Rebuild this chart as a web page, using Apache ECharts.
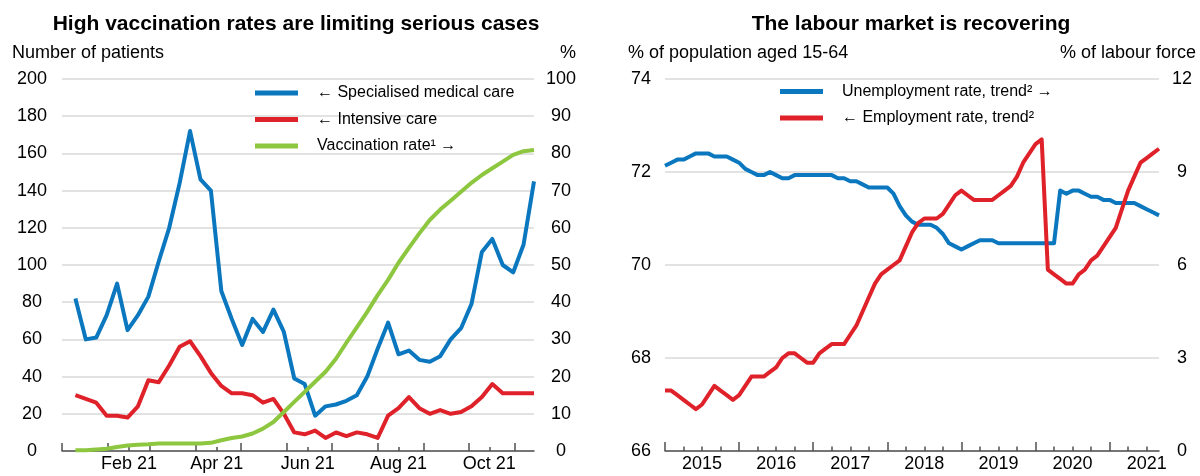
<!DOCTYPE html>
<html>
<head>
<meta charset="utf-8">
<title>Hospital cases and labour market</title>
<script src="https://cdn.jsdelivr.net/npm/echarts@6/dist/echarts.min.js"></script>
<style>
  html, body { margin: 0; padding: 0; background: #ffffff; }
  #chart { width: 1200px; height: 476px; }
</style>
</head>
<body>
<div id="chart"></div>
<script>
// ---- Left panel: weekly patient numbers and vaccination rate, 2021 ----
const dayAxisStart = '2021-01-01';
const dayAxisEnd = '2021-11-14';
const firstWeek = '2021-01-10';
const monthLabels = ['Feb 21', 'Apr 21', 'Jun 21', 'Aug 21', 'Oct 21'];

// Number of patients in specialised medical care (left axis)
const specialisedCare = [82, 60, 61, 73, 90, 65, 73, 83, 102, 120, 144, 172, 146, 140, 86,
  71, 57, 71, 64, 76, 64, 39, 36, 19, 24, 25, 27, 30, 40, 55, 69, 52, 54, 49, 48, 51, 60, 66,
  79, 107, 114, 100, 96, 111, 145];
// Number of patients in intensive care (left axis)
const intensiveCare = [30, 28, 26, 19, 19, 18, 24, 38, 37, 46, 56, 59, 51, 42, 35, 31, 31, 30,
  26, 28, 20, 10, 9, 11, 7, 10, 8, 10, 9, 7, 19, 23, 29, 23, 20, 22, 20, 21, 24, 29, 36, 31, 31,
  31, 31];
// Share vaccinated, per cent (right axis)
const vaccinationRate = [0.2, 0.2, 0.4, 0.6, 1.1, 1.5, 1.7, 1.8, 2.0, 2.0, 2.0, 2.0, 2.0, 2.2,
  2.9, 3.5, 3.9, 4.7, 6.0, 7.8, 10.5, 13.2, 15.9, 18.6, 21.3, 24.8, 29.1, 33.2, 37.4, 41.9, 46.0,
  50.6, 54.6, 58.5, 62.1, 64.9, 67.3, 69.7, 72.1, 74.2, 76.0, 77.8, 79.6, 80.6, 80.9];

// ---- Right panel: monthly labour market trends, Jan 2015 - Sep 2021 ----
const firstMonth = [2015, 1];
const lastMonth = [2021, 9];
// Unemployment rate, trend, % of labour force (right axis)
const unemploymentRate = [9.2, 9.3, 9.4, 9.4, 9.5, 9.6, 9.6, 9.6, 9.5, 9.5,
  9.5, 9.4, 9.3, 9.1, 9.0, 8.9, 8.9, 9.0, 8.9, 8.8,
  8.8, 8.9, 8.9, 8.9, 8.9, 8.9, 8.9, 8.9, 8.8, 8.8,
  8.7, 8.7, 8.6, 8.5, 8.5, 8.5, 8.5, 8.3, 7.9, 7.6,
  7.4, 7.3, 7.3, 7.3, 7.2, 7.0, 6.7, 6.6, 6.5, 6.6,
  6.7, 6.8, 6.8, 6.8, 6.7, 6.7, 6.7, 6.7, 6.7, 6.7,
  6.7, 6.7, 6.7, 6.7, 8.4, 8.3, 8.4, 8.4, 8.3, 8.2,
  8.2, 8.1, 8.1, 8.0, 8.0, 8.0, 8.0, 7.9, 7.8, 7.7, 7.6];
// Employment rate, trend, % of population aged 15-64 (left axis)
const employmentRate = [67.3, 67.3, 67.2, 67.1, 67.0, 66.9, 67.0, 67.2, 67.4, 67.3,
  67.2, 67.1, 67.2, 67.4, 67.6, 67.6, 67.6, 67.7, 67.8, 68.0,
  68.1, 68.1, 68.0, 67.9, 67.9, 68.1, 68.2, 68.3, 68.3, 68.3,
  68.5, 68.7, 69.0, 69.3, 69.6, 69.8, 69.9, 70.0, 70.1, 70.4,
  70.7, 70.9, 71.0, 71.0, 71.0, 71.1, 71.3, 71.5, 71.6, 71.5,
  71.4, 71.4, 71.4, 71.4, 71.5, 71.6, 71.7, 71.9, 72.2, 72.4,
  72.6, 72.7, 69.9, 69.8, 69.7, 69.6, 69.6, 69.8, 69.9, 70.1,
  70.2, 70.4, 70.6, 70.8, 71.2, 71.6, 71.9, 72.2, 72.3, 72.4, 72.5];

const leftTicks = { y1: [0, 200, 20], y2: [0, 100, 10] };
const rightTicks = { y1: [66, 74, 2], y2: [0, 12, 3] };

// ---- helpers ----
const DAY = 86400000;
const toUTC = s => { const [y, m, d] = s.split('-').map(Number); return Date.UTC(y, m - 1, d); };
const dayIndex = s => Math.round((toUTC(s) - toUTC(dayAxisStart)) / DAY);
const MONTH_NAMES = ['Jan', 'Feb', 'Mar', 'Apr', 'May', 'Jun', 'Jul', 'Aug', 'Sep', 'Oct', 'Nov', 'Dec'];

// one category per day
const dayCats = [];
for (let t = toUTC(dayAxisStart); t <= toUTC(dayAxisEnd); t += DAY) {
  dayCats.push(new Date(t).toISOString().slice(0, 10));
}
const labelName = d => MONTH_NAMES[Number(d.slice(5, 7)) - 1] + ' ' + d.slice(2, 4);
const isMonthStart = (i, v) => v.slice(8, 10) === '01';
const isLabelDay = (i, v) => v.slice(8, 10) === '15' && monthLabels.indexOf(labelName(v)) >= 0;

const weekX = i => dayIndex(firstWeek) + 7 * i;
const weekly = arr => arr.map((v, i) => [weekX(i), v]);

// one category per month
const monthCats = [];
for (let y = firstMonth[0], m = firstMonth[1]; y < lastMonth[0] || (y === lastMonth[0] && m <= lastMonth[1]);) {
  monthCats.push(y + '-' + String(m).padStart(2, '0'));
  m++; if (m > 12) { m = 1; y++; }
}

// ---- styling ----
const FONT = '"Liberation Sans", Arial, sans-serif';
const AXIS_COLOR = '#505050';
const GRID_COLOR = '#d9d9d9';
const BLUE = '#0a77bf';
const RED = '#df2129';
const GREEN = '#8dc63f';

const valueAxis = (grid, pos, t, margin, split) => ({
  type: 'value', gridIndex: grid, position: pos,
  min: t[0], max: t[1], interval: t[2],
  axisLine: { show: false }, axisTick: { show: false },
  axisLabel: { fontSize: 18, color: '#000', fontFamily: FONT, align: 'center', margin: margin },
  splitLine: { show: split, lineStyle: { color: GRID_COLOR, width: 1.5 } }
});

const tickAxis = (grid, cats, tickFn, len, line) => ({
  type: 'category', gridIndex: grid, data: cats, boundaryGap: false, position: 'bottom',
  axisLine: { show: line, lineStyle: { color: AXIS_COLOR, width: 1.5 } },
  axisTick: { show: true, inside: true, length: len, interval: tickFn,
    lineStyle: { color: AXIS_COLOR, width: 1.5 } },
  axisLabel: { show: false },
  splitLine: { show: false }
});

const labelAxis = (grid, cats, tickFn, len, labelFn, fmt) => ({
  type: 'category', gridIndex: grid, data: cats, boundaryGap: false, position: 'bottom',
  axisLine: { show: false },
  axisTick: { show: len > 0, inside: true, length: len, interval: tickFn,
    lineStyle: { color: AXIS_COLOR, width: 1.5 } },
  axisLabel: { show: true, interval: labelFn, formatter: fmt, fontSize: 18, color: '#000',
    fontFamily: FONT, margin: 4 },
  splitLine: { show: false }
});

const lineSeries = (name, data, color, xi, yi) => ({
  name: name, type: 'line', data: data, xAxisIndex: xi, yAxisIndex: yi,
  symbol: 'none', showSymbol: false, smooth: false,
  lineStyle: { color: color, width: 4, join: 'round' },
  itemStyle: { color: color },
  emphasis: { disabled: true }
});

const legendBox = (left, top, names) => ({
  orient: 'vertical', left: left, top: top, icon: 'rect',
  itemWidth: 43, itemHeight: 5, itemGap: 8.5,
  data: names,
  textStyle: { fontSize: 16, color: '#000', fontFamily: FONT, lineHeight: 18, padding: [0, 0, 0, 14] },
  selectedMode: false
});

const textEl = (x, y, text, align, size, bold) => ({
  type: 'text', x: x, y: y, silent: true,
  style: { text: text, fill: '#000', textAlign: align, textVerticalAlign: 'middle',
    font: (bold ? 'bold ' : '') + size + 'px ' + FONT }
});

const N_SPEC = '\u2190 Specialised medical care';
const N_ICU = '\u2190 Intensive care';
const N_VAC = 'Vaccination rate\u00b9 \u2192';
const N_UNEMP = 'Unemployment rate, trend\u00b2 \u2192';
const N_EMP = '\u2190 Employment rate, trend\u00b2';

const chart = echarts.init(document.getElementById('chart'), null, { renderer: 'canvas' });
chart.setOption({
  backgroundColor: '#ffffff',
  animation: false,
  textStyle: { fontFamily: FONT },
  grid: [
    { left: 62, right: 666, top: 79, bottom: 25, containLabel: false },
    { left: 665, right: 41, top: 79, bottom: 25, containLabel: false }
  ],
  xAxis: [
    tickAxis(0, dayCats, isMonthStart, 8, true),
    labelAxis(0, dayCats, isLabelDay, 4, isLabelDay, v => labelName(v)),
    tickAxis(1, monthCats, i => i % 12 === 0, 9, true),
    labelAxis(1, monthCats, i => i % 3 === 0 && i % 12 !== 0, 4.5, i => i % 12 === 6, v => v.slice(0, 4))
  ],
  yAxis: [
    valueAxis(0, 'left', leftTicks.y1, 30, true),
    valueAxis(0, 'right', leftTicks.y2, 27, false),
    valueAxis(1, 'left', rightTicks.y1, 24, true),
    valueAxis(1, 'right', rightTicks.y2, 23, false)
  ],
  legend: [
    legendBox(250, 79, [N_SPEC, N_ICU, N_VAC]),
    legendBox(775, 77.5, [N_UNEMP, N_EMP])
  ],
  graphic: [
    textEl(296, 24, 'High vaccination rates are limiting serious cases', 'center', 21, true),
    textEl(911, 24, 'The labour market is recovering', 'center', 21, true),
    textEl(12, 53, 'Number of patients', 'left', 18, false),
    textEl(568, 53, '%', 'center', 18, false),
    textEl(628, 53, '% of population aged 15-64', 'left', 18, false),
    textEl(1196, 53, '% of labour force', 'right', 18, false)
  ],
  series: [
    lineSeries(N_SPEC, weekly(specialisedCare), BLUE, 0, 0),
    lineSeries(N_ICU, weekly(intensiveCare), RED, 0, 0),
    lineSeries(N_VAC, weekly(vaccinationRate), GREEN, 0, 1),
    lineSeries(N_UNEMP, unemploymentRate.map((v, i) => [i, v]), BLUE, 2, 3),
    lineSeries(N_EMP, employmentRate.map((v, i) => [i, v]), RED, 2, 2)
  ]
});
</script>
</body>
</html>
